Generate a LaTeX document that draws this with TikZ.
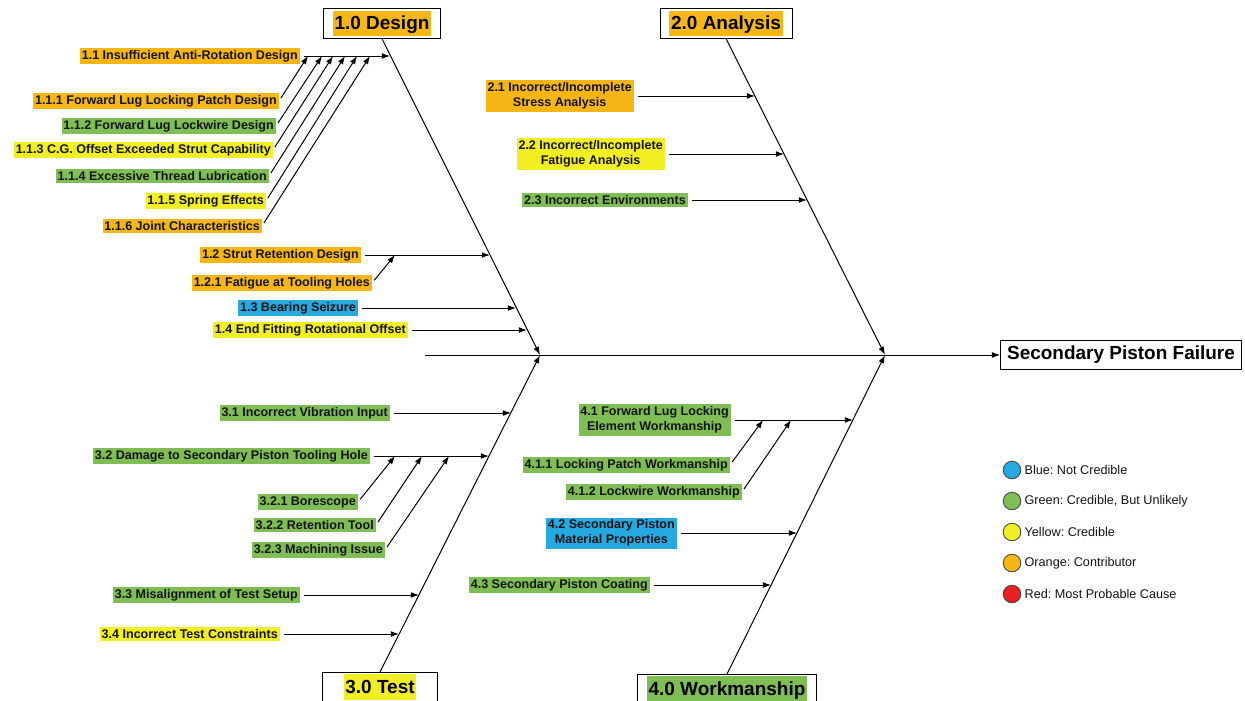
\documentclass[tikz,border=0pt]{standalone}
\usepackage{fontspec}
\setmainfont{Liberation Sans}
\usetikzlibrary{arrows.meta,positioning}
\frenchspacing
\definecolor{corange}{RGB}{246,183,22}
\definecolor{cyellow}{RGB}{242,238,36}
\definecolor{cgreen}{RGB}{126,190,84}
\definecolor{cblue}{RGB}{38,169,224}
\definecolor{cred}{RGB}{232,32,36}
\definecolor{ink}{RGB}{20,20,20}
\tikzset{lbl/.style = {fill = #1, anchor = east, align = center,
    inner xsep = 1.5pt, inner ysep = 2pt, text = ink,
    font = \bfseries\fontsize{10.7}{12.5}\selectfont
    }
}
\newcommand\catname[2]{{\setlength\fboxsep{1.5pt}\colorbox{#1}{\rule[-4.5pt]{0pt}{19pt}#2}}}

\begin{document}
\begin{tikzpicture}[x = 0.03cm, y = -0.03cm, line width = 0.85pt,
    > = {Latex[length = 7pt, width = 5pt]}]

    \tikzset{cause/.style = {->, shorten <= 3pt}}
    \tikzset{catbox/.style = {draw, fill = white, inner xsep = 8pt, inner ysep = 1.5pt,
        minimum width = 98pt, font = \bfseries\fontsize{16.2}{18}\selectfont}}
    \tikzset{keydot/.style = {circle, draw = black!75, line width = 0.7pt,
        minimum size = 15pt, inner sep = 0pt}}
    \tikzset{keytext/.style = {inner sep = 1pt, text = ink,
        font = \fontsize{10.8}{12}\selectfont}}

    \useasboundingbox (0,0) rectangle (1245,700);

    % head and spine
    \node [draw, fill = white, inner xsep = 5.5pt, inner ysep = 5pt,
        font = \bfseries\fontsize{16.2}{18}\selectfont] (effect) at (1121,355)
        {Secondary Piston Failure};
    \coordinate (tail) at (425,355);
    \coordinate (j1) at (540,355);
    \coordinate (j2) at (885,355);
    \draw [->] (tail) -- (effect.west);

    % categories
    \node [catbox] (design) at (382,23.5) {\catname{corange}{1.0 Design}};
    \node [catbox] (analysis) at (726,23.5) {\catname{corange}{2.0 Analysis}};
    \node [catbox, anchor = north] (test) at (380,672) {\catname{cyellow}{3.0 Test}};
    \node [catbox, anchor = north] (work) at (727,674) {\catname{cgreen}{4.0 Workmanship}};

    \draw [->] (design.south) -- (j1);
    \draw [->] (analysis.south) -- (j2);
    \draw [->] (test.north) -- (j1);
    \draw [->] (work.north) -- (j2);

    % 1.0 Design
    \node [lbl = corange] (l11) at (300,56) {1.1 Insufficient Anti-Rotation Design};
    \node [lbl = corange] (l111) at (279,101) {1.1.1 Forward Lug Locking Patch Design};
    \node [lbl = cgreen] (l112) at (276,126) {1.1.2 Forward Lug Lockwire Design};
    \node [lbl = cyellow] (l113) at (273,150) {1.1.3 C.G. Offset Exceeded Strut Capability};
    \node [lbl = cgreen] (l114) at (269,176) {1.1.4 Excessive Thread Lubrication};
    \node [lbl = cyellow] (l115) at (266,201) {1.1.5 Spring Effects};
    \node [lbl = corange] (l116) at (262,226) {1.1.6 Joint Characteristics};
    \node [lbl = corange] (l12) at (361,255) {1.2 Strut Retention Design};
    \node [lbl = corange] (l121) at (372,283) {1.2.1 Fatigue at Tooling Holes};
    \node [lbl = cblue] (l13) at (358,308) {1.3 Bearing Seizure};
    \node [lbl = cyellow] (l14) at (408,330) {1.4 End Fitting Rotational Offset};

    \coordinate (b11) at (390,56);
    \coordinate (b12) at (490,255);
    \coordinate (b13) at (516,308);
    \coordinate (b14) at (527,330);
    \coordinate (s121) at (395,255);

    \draw [cause] (l11.east) -- (b11);
    \foreach \i/\x in {1/308, 2/322, 3/333, 4/345, 5/357, 6/370}{
        \coordinate (s11\i) at (\x,56);
        \draw [cause] (l11\i.east) -- (s11\i);
    }
    \draw [cause] (l12.east) -- (b12);
    \draw [cause] (l121.east) -- (s121);
    \draw [cause] (l13.east) -- (b13);
    \draw [cause] (l14.east) -- (b14);

    % 2.0 Analysis
    \node [lbl = corange] (l21) at (634,96) {2.1 Incorrect/Incomplete\\Stress Analysis};
    \node [lbl = cyellow] (l22) at (665,154) {2.2 Incorrect/Incomplete\\Fatigue Analysis};
    \node [lbl = cgreen] (l23) at (688,200) {2.3 Incorrect Environments};

    \coordinate (b21) at (755,96);
    \coordinate (b22) at (784,154);
    \coordinate (b23) at (807,200);

    \draw [cause] (l21.east) -- (b21);
    \draw [cause] (l22.east) -- (b22);
    \draw [cause] (l23.east) -- (b23);

    % 3.0 Test
    \node [lbl = cgreen] (l31) at (390,413) {3.1 Incorrect Vibration Input};
    \node [lbl = cgreen] (l32) at (370,456) {3.2 Damage to Secondary Piston Tooling Hole};
    \node [lbl = cgreen] (l321) at (358,502) {3.2.1 Borescope};
    \node [lbl = cgreen] (l322) at (376,525) {3.2.2 Retention Tool};
    \node [lbl = cgreen] (l323) at (385,550) {3.2.3 Machining Issue};
    \node [lbl = cgreen] (l33) at (300,595) {3.3 Misalignment of Test Setup};
    \node [lbl = cyellow] (l34) at (280,634) {3.4 Incorrect Test Constraints};

    \coordinate (b31) at (511,413);
    \coordinate (b32) at (489,456);
    \coordinate (b33) at (419,595);
    \coordinate (b34) at (399,634);

    \draw [cause] (l31.east) -- (b31);
    \draw [cause] (l32.east) -- (b32);
    \foreach \i/\x in {1/395, 2/422, 3/449}{
        \coordinate (s32\i) at (\x,456);
        \draw [cause] (l32\i.east) -- (s32\i);
    }
    \draw [cause] (l33.east) -- (b33);
    \draw [cause] (l34.east) -- (b34);

    % 4.0 Workmanship
    \node [lbl = cgreen] (l41) at (731,420) {4.1 Forward Lug Locking\\Element Workmanship};
    \node [lbl = cgreen] (l411) at (730,465) {4.1.1 Locking Patch Workmanship};
    \node [lbl = cgreen] (l412) at (742,492) {4.1.2 Lockwire Workmanship};
    \node [lbl = cblue] (l42) at (677,533) {4.2 Secondary Piston\\Material Properties};
    \node [lbl = cgreen] (l43) at (650,585) {4.3 Secondary Piston Coating};

    \coordinate (b41) at (853,420);
    \coordinate (b42) at (797,533);
    \coordinate (b43) at (771,585);

    \draw [cause] (l41.east) -- (b41);
    \foreach \i/\x in {1/763, 2/791}{
        \coordinate (s41\i) at (\x,420);
        \draw [cause] (l41\i.east) -- (s41\i);
    }
    \draw [cause] (l42.east) -- (b42);
    \draw [cause] (l43.east) -- (b43);

    % key
    \node [keydot, fill = cblue] (kblue) at (1012,470) {};
    \node [keydot, fill = cgreen] (kgreen) at (1012,501) {};
    \node [keydot, fill = cyellow] (kyellow) at (1012,532) {};
    \node [keydot, fill = corange] (korange) at (1012,563) {};
    \node [keydot, fill = cred] (kred) at (1012,594) {};
    \node [keytext, right = 1.5pt of kblue] (tblue) {Blue: Not Credible};
    \node [keytext, right = 1.5pt of kgreen] (tgreen) {Green: Credible, But Unlikely};
    \node [keytext, right = 1.5pt of kyellow] (tyellow) {Yellow: Credible};
    \node [keytext, right = 1.5pt of korange] (torange) {Orange: Contributor};
    \node [keytext, right = 1.5pt of kred] (tred) {Red: Most Probable Cause};

\end{tikzpicture}
\end{document}
